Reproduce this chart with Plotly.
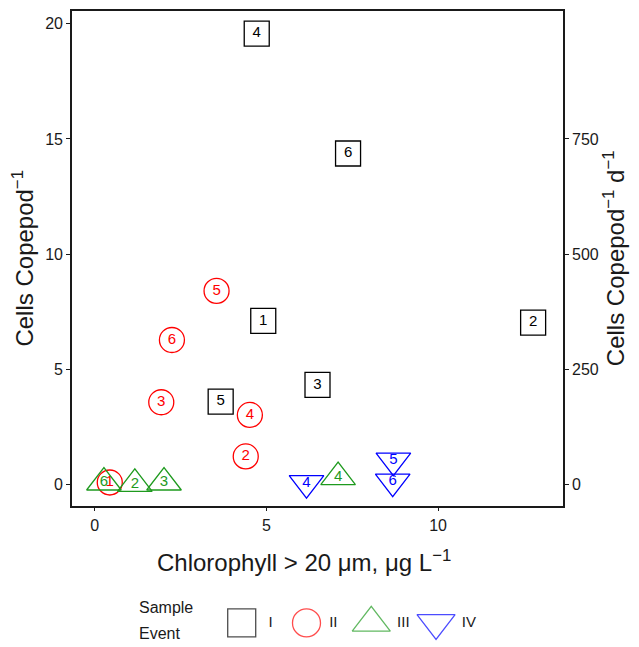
import plotly.graph_objects as go

# ---------------- data ----------------
events = ["I", "II", "III", "IV"]
event_colors = ["#000000", "#FF0000", "#1E9A1E", "#0000FF"]
event_symbols = ["square-open", "circle-open", "triangle-up-open", "triangle-down-open"]

I_labels = ["1", "2", "3", "4", "5", "6"]
I_chl = [4.91, 12.77, 6.49, 4.72, 3.67, 7.38]
I_cells = [7.11, 7.03, 4.33, 19.57, 3.61, 14.37]

II_labels = ["1", "2", "3", "4", "5", "6"]
II_chl = [0.44, 4.40, 1.94, 4.52, 3.55, 2.25]
II_cells = [0.10, 1.23, 3.58, 3.03, 8.41, 6.28]

III_labels = ["2", "3", "4", "6"]
III_chl = [1.17, 2.02, 7.09, 0.27]
III_cells = [0.04, 0.10, 0.33, 0.10]

IV_labels = ["4", "5", "6"]
IV_chl = [6.17, 8.70, 8.68]
IV_cells = [0.07, 1.05, 0.14]

x_ticks = [0, 5, 10]
y_ticks = [0, 5, 10, 15, 20]
y2_ticks = [0, 250, 500, 750]
sec_factor = 50

x_title = "Chlorophyll > 20 μm, μg L<sup>−1</sup>"
y_title = "Cells Copepod<sup>−1</sup>"
y2_title = "Cells Copepod<sup>−1</sup> d<sup>−1</sup>"

# ---------------- figure ----------------
FONT = "Liberation Sans, Arial, Helvetica, sans-serif"
INK = "#1a1a1a"
x_range = [-0.66, 13.64]
y_range = [-0.9, 20.55]

groups = [
    (I_chl, I_cells, I_labels),
    (II_chl, II_cells, II_labels),
    (III_chl, III_cells, III_labels),
    (IV_chl, IV_cells, IV_labels),
]
plot_sizes = [25, 25, 30, 30]
legend_sizes = [28, 28, 33, 33]

fig = go.Figure()
for (xs, ys, labs), name, col, sym, sz in zip(groups, events, event_colors, event_symbols, plot_sizes):
    fig.add_trace(go.Scatter(
        x=xs, y=ys, text=labs, mode="markers+text", name=name,
        marker=dict(symbol=sym, size=sz, color=col, line=dict(width=1.3, color=col)),
        textposition="middle center",
        textfont=dict(family=FONT, size=15, color=col),
        showlegend=False, cliponaxis=False,
    ))

# secondary axis carrier (same values, scaled to the right-hand axis, invisible)
fig.add_trace(go.Scatter(x=I_chl, y=[v * sec_factor for v in I_cells], yaxis="y2",
                         mode="markers", marker=dict(opacity=0), showlegend=False,
                         hoverinfo="skip"))

# custom legend row
fig.add_trace(go.Scatter(
    x=events, y=[0] * len(events), xaxis="x3", yaxis="y3",
    mode="markers+text", text=["  " + events[0]] + [" " + e for e in events[1:]],
    textposition="middle right",
    textfont=dict(family=FONT, size=15, color=INK),
    marker=dict(symbol=event_symbols, size=legend_sizes, color=event_colors,
                line=dict(width=1.3, color=event_colors)),
    showlegend=False, cliponaxis=False, hoverinfo="skip",
))

axis_common = dict(
    showline=True, linecolor=INK, linewidth=1.6,
    ticks="outside", ticklen=4, tickwidth=1.2, tickcolor=INK,
    showgrid=False, zeroline=False, automargin=False,
    tickfont=dict(family=FONT, size=16, color=INK),
)

# page body has an 8px margin, so the figure is 8px smaller on each axis
fig.update_layout(
    width=631, height=639,
    margin=dict(l=64, r=76, t=3, b=10, autoexpand=False),
    paper_bgcolor="white", plot_bgcolor="white",
    font=dict(family=FONT, color=INK),
    xaxis=dict(**axis_common, range=x_range, tickvals=x_ticks, mirror=True, anchor="y"),
    yaxis=dict(
        **axis_common, range=y_range, tickvals=y_ticks, mirror=True,
        domain=[0.21, 1], anchor="x",
        title=dict(text=y_title, font=dict(family=FONT, size=24, color=INK), standoff=6),
    ),
    yaxis2=dict(
        **axis_common, overlaying="y", side="right", anchor="x",
        range=[y_range[0] * sec_factor, y_range[1] * sec_factor],
        tickvals=y2_ticks, domain=[0.21, 1],
        title=dict(text=y2_title, font=dict(family=FONT, size=24, color=INK), standoff=6),
    ),
    xaxis3=dict(domain=[0, 1], anchor="y3", range=[-2.62, 4.96], visible=False,
                type="category", categoryorder="array", categoryarray=events),
    yaxis3=dict(domain=[0, 0.045], anchor="x3", range=[-1, 1], visible=False),
    annotations=[
        dict(text=x_title, xref="paper", yref="paper", x=0.4735, y=0.121,
             xanchor="center", yanchor="middle", showarrow=False,
             font=dict(family=FONT, size=24, color=INK)),
        dict(text="Sample", xref="paper", yref="paper", x=0.132, y=0.0225 + 0.024,
             xanchor="left", yanchor="middle", align="left", showarrow=False,
             font=dict(family=FONT, size=16, color=INK)),
        dict(text="Event", xref="paper", yref="paper", x=0.132, y=0.0225 - 0.017,
             xanchor="left", yanchor="middle", align="left", showarrow=False,
             font=dict(family=FONT, size=16, color=INK)),
    ],
)

fig.write_html("out.html")
